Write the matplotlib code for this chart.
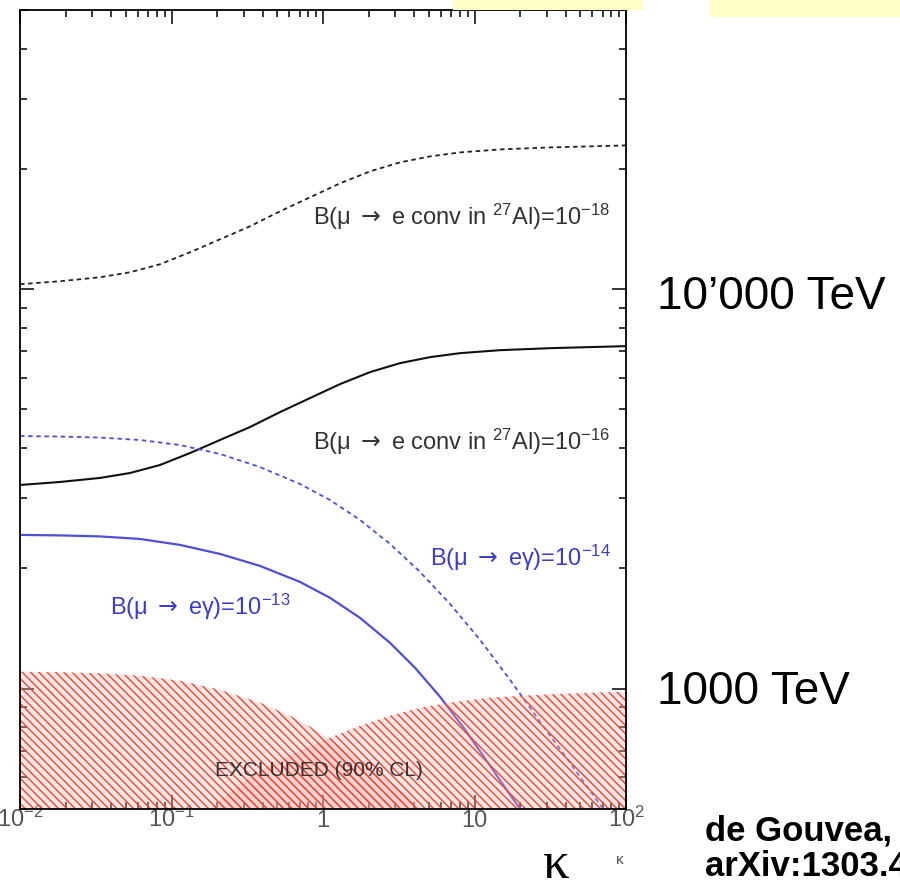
import matplotlib
matplotlib.use('Agg')
import matplotlib.pyplot as plt
from matplotlib.patches import Rectangle
from matplotlib.ticker import LogLocator, NullFormatter, FixedLocator

plt.rcParams['font.family'] = ['Liberation Sans', 'DejaVu Sans']
plt.rcParams['mathtext.fontset'] = 'custom'
plt.rcParams['mathtext.rm'] = 'Liberation Sans'
plt.rcParams['mathtext.it'] = 'Liberation Sans:italic'
plt.rcParams['mathtext.bf'] = 'Liberation Sans:bold'
plt.rcParams['mathtext.sf'] = 'DejaVu Sans'
plt.rcParams['hatch.linewidth'] = 1.0

# curves: kappa (x) and Lambda in TeV (y)
kappa_conv = [0.01, 0.01836, 0.0337, 0.0532, 0.0839, 0.1324, 0.2089, 0.3296, 0.520,
              0.8204, 1.294, 2.042, 3.221, 5.082, 8.017, 14.72, 31.48, 100]
lam_conv16 = [3236, 3293, 3370, 3467, 3631, 3890, 4194, 4519, 4925,
              5340, 5787, 6202, 6531, 6761, 6918, 7038, 7120, 7204]
lam_conv18 = [10292, 10471, 10715, 11027, 11547, 12374, 13335, 14371, 15668,
              16982, 18408, 19724, 20773, 21503, 22003, 22387, 22646, 22909]

kappa_meg13 = [0.01, 0.01836, 0.0337, 0.0619, 0.1138, 0.2089, 0.3837, 0.7047, 1.112,
               1.754, 2.768, 4.046, 5.917, 8.653, 12.65, 17.15, 19.96]
lam_meg13 = [2427, 2420, 2406, 2371, 2291, 2175, 2030, 1851, 1689,
             1505, 1303, 1129, 955, 790, 642, 543, 501]

kappa_meg14 = [0.01, 0.01836, 0.0337, 0.0619, 0.1138, 0.2089, 0.3837, 0.7047, 1.112,
               1.754, 2.768, 4.368, 6.889, 10.87, 17.15, 27.06, 42.68, 67.32, 70.5]
lam_meg14 = [4290, 4278, 4253, 4194, 4074, 3869, 3589, 3255, 2968,
             2646, 2305, 1961, 1631, 1326, 1053, 827, 653, 513, 501]

# excluded regions (90% CL)
kappa_excl_meg = [0.01, 0.01836, 0.0337, 0.0619, 0.1138, 0.2089, 0.3837, 0.605, 0.8204,
                  1.112, 1.507, 2.042, 2.768, 3.753, 4.712, 5.917]
lam_excl_meg = [1103, 1100, 1093, 1078, 1047, 994, 923, 856, 804,
                746, 692, 638, 585, 534, 495, 457]
kappa_excl_conv = [0.1428, 0.1795, 0.2831, 0.4467, 0.7047, 1.112, 1.754, 2.768, 4.368,
                   6.889, 12.65, 27.06, 57.8, 100]
lam_excl_conv = [457, 501, 579, 646, 700, 754, 808, 856, 896,
                 923, 950, 966, 977, 983]

xtick_vals = [0.01, 0.1, 1, 10, 100]
xtick_labels = ['$10^{-2}$', '$10^{-1}$', '1', '10', '$10^{2}$']

W, H = 900, 888

def fx(px):
    return px / W

def fy(py):
    return 1 - py / H

fig = plt.figure(figsize=(9, 8.88), dpi=100)

# pale yellow boxes at the top edge (slide highlights)
fig.patches.append(Rectangle((fx(453), fy(10)), 190 / W, 10 / H, transform=fig.transFigure,
                             facecolor='#ffffc6', edgecolor='none'))
fig.patches.append(Rectangle((fx(710), fy(17)), 190 / W, 17 / H, transform=fig.transFigure,
                             facecolor='#ffffc6', edgecolor='none'))

ax = fig.add_axes([fx(20), fy(809), 606 / W, 799 / H])
ax.set_xscale('log')
ax.set_yscale('log')
ax.set_xlim(0.01, 100)
ax.set_ylim(500, 50000)

blue = '#4f4fd6'
ax.plot(kappa_conv, lam_conv18, color='#222222', lw=1.3, ls=(0, (2.5, 2)))
ax.plot(kappa_conv, lam_conv16, color='#111111', lw=1.5)
ax.plot(kappa_meg14, lam_meg14, color=blue, lw=1.3, ls=(0, (2.5, 2)))
ax.plot(kappa_meg13, lam_meg13, color=blue, lw=1.6)

ax.fill_between(kappa_excl_meg, 100, lam_excl_meg, facecolor=(1, 0.7, 0.66, 0.35),
                edgecolor='#dc4c42', hatch='\\\\\\\\', linewidth=0, zorder=3)
ax.fill_between(kappa_excl_conv, 100, lam_excl_conv, facecolor=(1, 0.7, 0.66, 0.35),
                edgecolor='#dc4c42', hatch='\\\\\\\\', linewidth=0, zorder=3)

# ticks
ax.xaxis.set_major_locator(FixedLocator(xtick_vals))
ax.set_xticklabels(xtick_labels)
ax.xaxis.set_minor_locator(LogLocator(base=10, subs=range(2, 10), numticks=20))
ax.xaxis.set_minor_formatter(NullFormatter())
ax.yaxis.set_major_locator(FixedLocator([1000, 10000]))
ax.yaxis.set_minor_locator(LogLocator(base=10, subs=range(2, 10), numticks=20))
ax.yaxis.set_minor_formatter(NullFormatter())
ax.tick_params(which='both', direction='in', top=True, right=True, width=1.1, zorder=5)
ax.tick_params(which='major', length=10)
ax.tick_params(which='minor', length=5)
ax.tick_params(axis='y', labelleft=False)
ax.tick_params(axis='x', which='major', pad=13, labelsize=17, labelcolor='#555555')
for t in ax.get_xticklabels():
    t.set_verticalalignment('baseline')
for s in ax.spines.values():
    s.set_linewidth(1.3)
    s.set_zorder(6)

# curve labels
arrow = r'$\mathsf{\rightarrow}$'
txt = dict(fontsize=17, va='center', ha='left')
fig.text(fx(313), fy(217), 'B(μ ' + arrow + ' e conv in $^{27}$Al)=10$^{-18}$', color='#333333', **txt)
fig.text(fx(313), fy(442), 'B(μ ' + arrow + ' e conv in $^{27}$Al)=10$^{-16}$', color='#333333', **txt)
fig.text(fx(430), fy(558), 'B(μ ' + arrow + ' eγ)=10$^{-14}$', color='#3c3cc8', **txt)
fig.text(fx(110), fy(607), 'B(μ ' + arrow + ' eγ)=10$^{-13}$', color='#3c3cc8', **txt)
fig.text(fx(215), fy(770), 'EXCLUDED (90% CL)', color='#3a3030', fontsize=15, va='center', ha='left', zorder=7)

# axis label and slide annotations
fig.text(fx(620), fy(860), 'κ', color='#555555', fontsize=11, ha='center', va='center')
fig.text(fx(556), fy(878), 'κ', color='black', fontsize=38, family='Liberation Serif',
         ha='center', va='baseline')
fig.text(fx(657), fy(297), '10’000 TeV', fontsize=33, ha='left', va='center')
fig.text(fx(657), fy(692), '1000 TeV', fontsize=33, ha='left', va='center')
fig.text(fx(705), fy(831), 'de Gouvea,', fontsize=25, weight='bold', ha='left', va='center')
fig.text(fx(705), fy(866), 'arXiv:1303.4', fontsize=25, weight='bold', ha='left', va='center')

fig.savefig('out.png', dpi=100)
